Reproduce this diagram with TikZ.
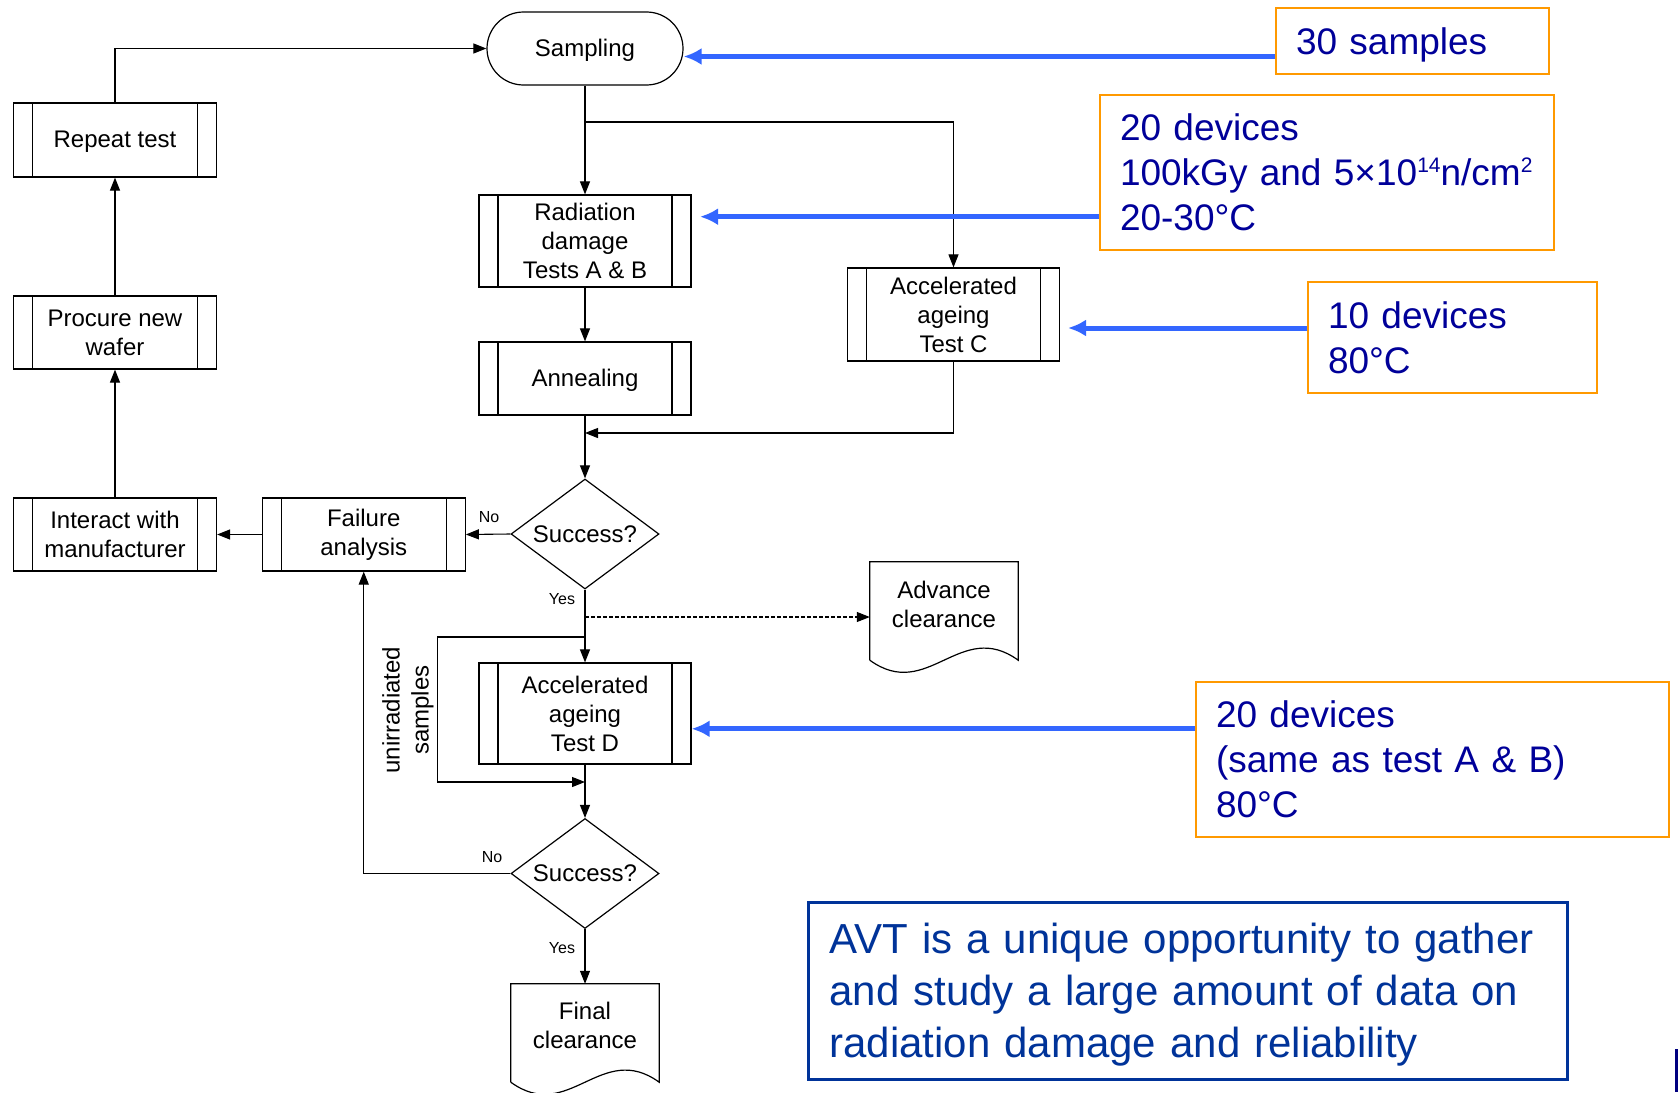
\documentclass[tikz,border=0pt]{standalone}
\usepackage{fontspec}
\setmainfont{Liberation Sans}
\usetikzlibrary{shapes.geometric,shapes.misc,arrows.meta}
\definecolor{noteorange}{RGB}{255,153,0}
\definecolor{notenavy}{RGB}{0,0,153}
\definecolor{feedblue}{RGB}{51,102,255}
\definecolor{avtblue}{RGB}{0,51,153}
\definecolor{edgenavy}{RGB}{0,0,128}
\newcommand\supsmall[1]{{\fontsize{21}{21}\selectfont\raisebox{13pt}{#1}}}

\begin{document}
\begin{tikzpicture}[x=1pt,y=-1pt,
  flow/.style={font=\fontsize{24}{29}\selectfont, align=center, inner sep=0pt},
  oneline/.style={text depth=1pt},
  proc/.style={flow, draw, line width=1.2pt, rectangle, minimum width=212pt, minimum height=73pt,
    path picture={
      \draw[line width=1.2pt] ([xshift=19pt]path picture bounding box.north west) -- ([xshift=19pt]path picture bounding box.south west);
      \draw[line width=1.2pt] ([xshift=-19pt]path picture bounding box.north east) -- ([xshift=-19pt]path picture bounding box.south east);}},
  decision/.style={flow, draw, line width=1.2pt, diamond, aspect=1.35, minimum width=148pt, minimum height=110pt},
  terminal/.style={flow, draw, line width=1.2pt, rounded rectangle, minimum width=196pt, minimum height=73pt},
  docbody/.style={inner sep=0pt, minimum width=148pt, minimum height=98pt},
  docedge/.style={line width=1.2pt},
  link/.style={line width=1.1pt},
  arr/.style={line width=1.1pt, -{Triangle[length=13pt,width=10pt]}},
  lbl/.style={font=\fontsize{16}{19}\selectfont, inner sep=0pt},
  note/.style={draw=noteorange, line width=2pt, text=notenavy, font=\fontsize{37}{45}\selectfont,
    align=left, inner xsep=20pt, inner ysep=0pt, anchor=north west},
  avtnote/.style={draw=avtblue, line width=3pt, text=avtblue, font=\fontsize{42}{52}\selectfont,
    align=left, inner xsep=21pt, inner ysep=0pt, anchor=north west},
  barrow/.style={draw=feedblue, line width=5pt, -{Latex[length=18pt,width=17pt]}}
]
\useasboundingbox (0,0) rectangle (1678,1092);

% main test chain
\node[terminal, oneline] (samp) at (585,48.5) {Sampling};
\node[proc, minimum height=92pt] (rad) at (585,241) {Radiation\\damage\\Tests A \& B};
\node[proc, oneline] (ann) at (585,378.5) {Annealing};
\node[proc, minimum height=93pt] (testc) at (953.5,314.5) {Accelerated\\ageing\\Test C};
\node[decision] (dia1) at (585,534) {Success?};
\node[proc, minimum height=101pt] (testd) at (585,713.5) {Accelerated\\ageing\\Test D};
\node[decision] (dia2) at (585,873.5) {Success?};

% failure branch
\node[proc, minimum width=203pt] (fail) at (363.75,534.5) {Failure\\analysis};
\node[proc, minimum width=203pt] (inter) at (115,534.5) {Interact with\\manufacturer};
\node[proc, minimum width=203pt] (proc) at (115,332.5) {Procure new\\wafer};
\node[proc, oneline, minimum width=203pt, minimum height=74pt] (rep) at (115,140) {Repeat test};

% document shapes
\node[docbody] (adv) at (944,611) {};
\node[flow] (advtext) at (944,604.5) {Advance\\clearance};
\draw[docedge] (adv.south west) -- (adv.north west) -- (adv.north east) -- (adv.south east)
  .. controls +(-58,-42) and +(58,42) .. (adv.south west);
\node[docbody] (fin) at (585,1033) {};
\node[flow] (fintext) at (585,1025.5) {Final\\clearance};
\draw[docedge] (fin.south west) -- (fin.north west) -- (fin.north east) -- (fin.south east)
  .. controls +(-58,-42) and +(58,42) .. (fin.south west);

% connectors
\coordinate (br) at (585,122);
\coordinate (jn) at (585,433);
\coordinate (dash) at (585,617);
\coordinate (lpa) at (585,637);
\coordinate (lpb) at (437.5,637);
\coordinate (lpc) at (585,782);

\draw[arr] (samp.south) -- (rad.north);
\draw[arr] (br) -| (testc.north);
\draw[arr] (rad.south) -- (ann.north);
\draw[arr] (ann.south) -- (dia1.north);
\draw[arr] (testc.south) |- (jn);
\draw[arr] (dia1.west) -- (fail.east);
\draw[arr] (fail.west) -- (inter.east);
\draw[arr] (inter.north) -- (proc.south);
\draw[arr] (proc.north) -- (rep.south);
\draw[arr] (rep.north) |- (samp.west);
\draw[arr] (dia1.south) -- (testd.north);
\draw[link, dash pattern=on 4pt off 2pt, -{Triangle[length=13pt,width=10pt]}] (dash) -- (adv.west |- dash);
\draw[arr] (lpa) -- (lpb) |- (lpc);
\draw[arr] (testd.south) -- (dia2.north);
\draw[arr] (dia2.west) -| (fail.south);
\draw[arr] (dia2.south) -- (fin.north);

\node[lbl] (no1) at (489,517) {No};
\node[lbl] (yes1) at (562,599) {Yes};
\node[lbl] (no2) at (492,857) {No};
\node[lbl] (yes2) at (562,948) {Yes};
\node[flow, rotate=90] (unirr) at (408,710) {unirradiated\\samples};

% parameter notes
\node[note, text width=232.5pt, minimum height=66pt, text depth=0pt] (s30) at (1275,6.7) {30 samples};
\node[note, text width=414pt, minimum height=155pt] (d20) at (1099,94) {20 devices\\\mbox{100kGy and 5×10\supsmall{14}n/cm\supsmall{2}}\\20-30°C};
\node[note, text width=249pt, minimum height=111pt] (d10) at (1307,281) {10 devices\\80°C};
\node[note, text width=432.7pt, minimum height=155pt] (d20b) at (1195,681) {20 devices\\(same as test A \& B)\\80°C};
\node[avtnote, text width=717pt, minimum height=177pt] (avt) at (807,901) {\rule{0pt}{37pt}AVT is a unique opportunity to gather\\and study a large amount of data on\\radiation damage and reliability};

\coordinate (b1) at (0,56.5);
\coordinate (b2) at (0,216.7);
\coordinate (t2) at (700,216.7);
\coordinate (b3) at (0,328);
\coordinate (t3) at (1068,328);
\coordinate (b4) at (0,728.8);
\draw[barrow] (s30.west |- b1) -- (samp.east |- b1);
\draw[barrow] (d20.west |- b2) -- (t2);
\draw[barrow] (d10.west |- b3) -- (t3);
\draw[barrow] (d20b.west |- b4) -- (testd.east |- b4);

\fill[edgenavy] (1675,1049) rectangle (1678,1092);
\end{tikzpicture}
\end{document}
